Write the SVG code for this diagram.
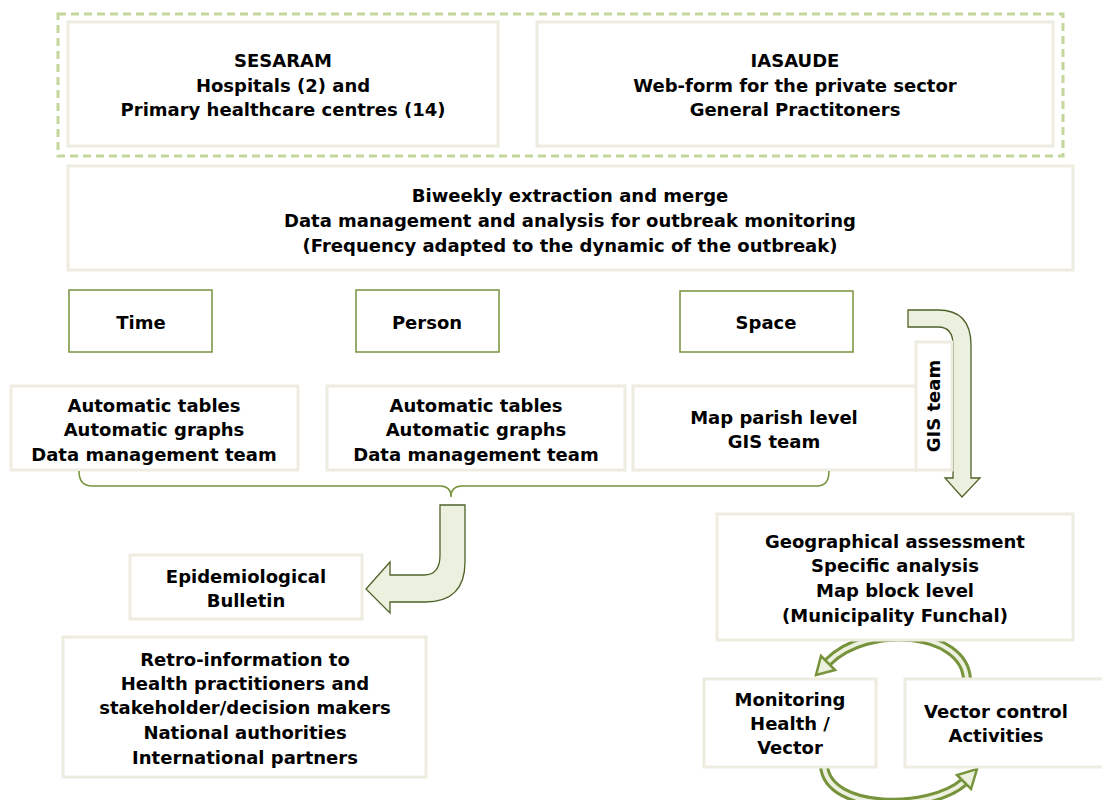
<svg xmlns="http://www.w3.org/2000/svg" width="1102" height="800" viewBox="0 0 1102 800">
<style>
text{font-family:"DejaVu Sans","Liberation Sans",sans-serif;font-weight:bold;font-size:18px;text-anchor:middle;fill:#000}
.bx{fill:#fff;stroke:#eeece1;stroke-width:3}
.gb{fill:#fff;stroke:#77933c;stroke-width:1.5}
.ar{fill:#ebf1de;stroke:#4f6228;stroke-width:1.3}
.ring{fill:none;stroke:#77933c;stroke-width:10}
.ringin{fill:none;stroke:#ebf1de;stroke-width:4}
.head{fill:#ebf1de;stroke:#77933c;stroke-width:2.5;stroke-linejoin:miter}
</style>
<rect width="1102" height="800" fill="#fff"/>
<rect x="58" y="14" width="1005" height="142" fill="none" stroke="#c3d69b" stroke-width="3" stroke-dasharray="8,5"/>

<g id="sesaram"><rect class="bx" x="68" y="22" width="430" height="124"/>
<text x="283" y="67">SESARAM</text><text x="283" y="92">Hospitals (2) and</text><text x="283" y="116">Primary healthcare centres (14)</text></g>
<g id="iasaude"><rect class="bx" x="537" y="22" width="516" height="124"/>
<text x="795" y="67">IASAUDE</text><text x="795" y="92">Web-form for the private sector</text><text x="795" y="116">General Practitoners</text></g>
<g id="extraction"><rect class="bx" x="68" y="166" width="1005" height="104"/>
<text x="570" y="202">Biweekly extraction and merge</text><text x="570" y="227">Data management and analysis for outbreak monitoring</text><text x="570" y="252">(Frequency adapted to the dynamic of the outbreak)</text></g>

<g id="time"><rect class="gb" x="69" y="290" width="143" height="62"/><text x="141" y="329">Time</text></g>
<g id="person"><rect class="gb" x="356" y="290" width="143" height="62"/><text x="427" y="329">Person</text></g>
<g id="space"><rect class="gb" x="680" y="291" width="173" height="61"/><text x="766" y="329">Space</text></g>

<g id="auto1"><rect class="bx" x="11" y="386" width="287" height="84"/>
<text x="154" y="412">Automatic tables</text><text x="154" y="436">Automatic graphs</text><text x="154" y="461">Data management team</text></g>
<g id="auto2"><rect class="bx" x="327" y="386" width="298" height="84"/>
<text x="476" y="412">Automatic tables</text><text x="476" y="436">Automatic graphs</text><text x="476" y="461">Data management team</text></g>
<g id="map"><rect class="bx" x="633" y="386" width="284" height="84"/>
<text x="774" y="424">Map parish level</text><text x="774" y="448">GIS team</text></g>

<g id="connectors">
<path d="M79,471 Q79,486 92,486 L440,486 Q451,486 451,497 Q451,486 462,486 L817,486 Q829,486 829,471" fill="none" stroke="#77933c" stroke-width="1.5"/>
<path class="ar" d="M440,505 L465,505 L465,562 Q465,602 425,602 L390,602 L390,613 L366,589 L390,562 L390,575 L424,575 Q440,575 440,555 Z"/>
<path class="ar" d="M908,310 L938,310 Q971,310 971,345 L971,478 L980,478 L962,497 L945,478 L953,478 L953,345 Q953,327 938,327 L908,327 Z"/>
<path class="ring" d="M967,679 C964,630 868,622 828,662"/>
<path class="ringin" d="M967,679 C964,630 868,622 828,662"/>
<polygon class="head" points="835,670 821,656 816,675"/>
<path class="ring" d="M824,766 C828,812 930,812 964,782"/>
<path class="ringin" d="M824,766 C828,812 930,812 964,782"/>
<polygon class="head" points="957,775 971,789 977,769"/>
</g>

<g id="gisteam"><rect class="bx" x="916" y="342" width="36" height="128"/>
<text transform="translate(940,406) rotate(-90)">GIS team</text></g>

<g id="bulletin"><rect class="bx" x="130" y="555" width="232" height="64"/>
<text x="246" y="583">Epidemiological</text><text x="246" y="607">Bulletin</text></g>
<g id="retro"><rect class="bx" x="63" y="637" width="363" height="140"/>
<text x="245" y="666">Retro-information to</text><text x="245" y="690">Health practitioners and</text><text x="245" y="714">stakeholder/decision makers</text><text x="245" y="739">National authorities</text><text x="245" y="764">International partners</text></g>
<g id="geo"><rect class="bx" x="717" y="514" width="356" height="126"/>
<text x="895" y="548">Geographical assessment</text><text x="895" y="572">Specific analysis</text><text x="895" y="597">Map block level</text><text x="895" y="622">(Municipality Funchal)</text></g>
<g id="monitoring"><rect class="bx" x="704" y="679" width="172" height="88"/>
<text x="790" y="706">Monitoring</text><text x="790" y="730">Health /</text><text x="790" y="754">Vector</text></g>
<g id="vector"><rect class="bx" x="905" y="679" width="200" height="88"/>
<text x="996" y="718">Vector control</text><text x="996" y="742">Activities</text></g>
</svg>
